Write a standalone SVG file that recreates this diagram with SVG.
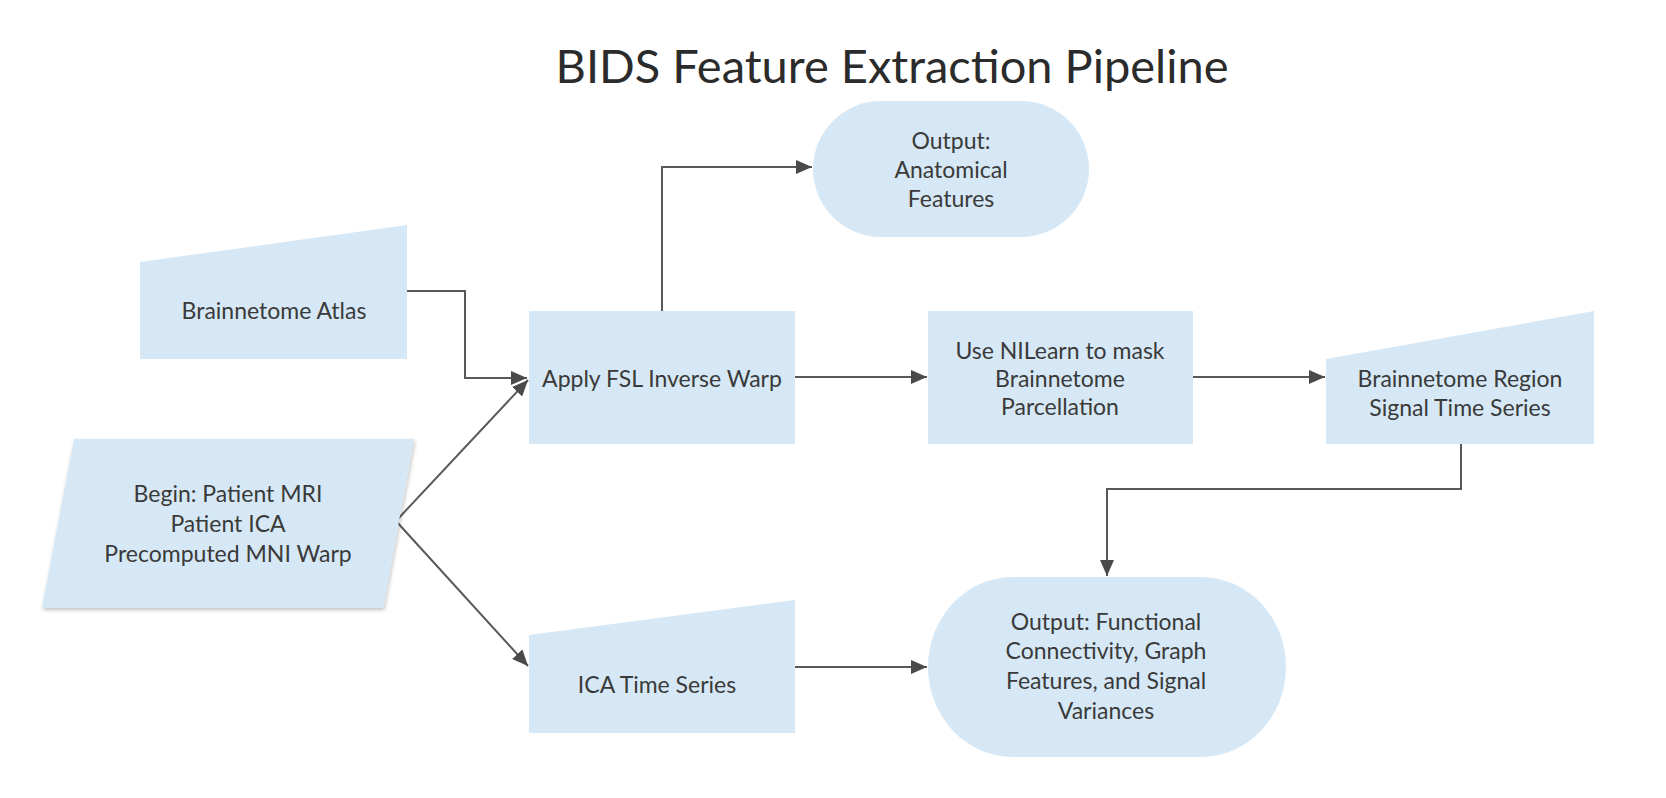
<svg xmlns="http://www.w3.org/2000/svg" width="1666" height="798" viewBox="0 0 1666 798">
<style>
.n{fill:#d6e8f5;stroke:none}
.t{font-family:Lato,"Open Sans","Liberation Sans",sans-serif;font-size:23px;fill:#3a3a3a;text-anchor:middle}
.c{fill:none;stroke:#595959;stroke-width:2}
.title{font-family:Lato,"Open Sans","Liberation Sans",sans-serif;font-size:47px;fill:#2b2b2b;text-anchor:middle}
</style>
<defs>
<marker id="ah" viewBox="0 0 16 14" refX="16" refY="7" markerWidth="16" markerHeight="14" markerUnits="userSpaceOnUse" orient="auto">
<path d="M0,0 L16,7 L0,14 Z" fill="#4a4a4a"/>
</marker>
<filter id="sh" x="-10%" y="-10%" width="130%" height="130%">
<feGaussianBlur in="SourceAlpha" stdDeviation="2"/>
<feOffset dx="1" dy="2" result="b"/>
<feComponentTransfer><feFuncA type="linear" slope="0.25"/></feComponentTransfer>
<feMerge><feMergeNode/><feMergeNode in="SourceGraphic"/></feMerge>
</filter>
</defs>
<rect width="1666" height="798" fill="#ffffff"/>
<text class="title" x="892" y="83">BIDS Feature Extraction Pipeline</text>

<g id="connectors">
<polyline class="c" points="407,291 465,291 465,378 527,378" marker-end="url(#ah)"/>
<line class="c" x1="396" y1="521" x2="528" y2="380" marker-end="url(#ah)"/>
<line class="c" x1="396" y1="521" x2="528" y2="666" marker-end="url(#ah)"/>
<polyline class="c" points="662,311 662,167 812,167" marker-end="url(#ah)"/>
<line class="c" x1="795" y1="377" x2="927" y2="377" marker-end="url(#ah)"/>
<line class="c" x1="1193" y1="377" x2="1325" y2="377" marker-end="url(#ah)"/>
<polyline class="c" points="1461,444 1461,489 1107,489 1107,576" marker-end="url(#ah)"/>
<line class="c" x1="795" y1="667" x2="927" y2="667" marker-end="url(#ah)"/>
</g>

<g id="atlas">
<polygon class="n" points="140,262 407,225 407,359 140,359"/>
<text class="t" x="274" y="319">Brainnetome Atlas</text>
</g>

<g id="begin">
<polygon class="n" points="74,439 414,439 383,608 42,608" filter="url(#sh)"/>
<text class="t" x="228" y="502">Begin: Patient MRI</text>
<text class="t" x="228" y="532">Patient ICA</text>
<text class="t" x="228" y="562">Precomputed MNI Warp</text>
</g>

<g id="apply">
<rect class="n" x="529" y="311" width="266" height="133"/>
<text class="t" x="662" y="387">Apply FSL Inverse Warp</text>
</g>

<g id="anat">
<rect class="n" x="813" y="101" width="276" height="136" rx="68" ry="68"/>
<text class="t" x="951" y="149">Output:</text>
<text class="t" x="951" y="178">Anatomical</text>
<text class="t" x="951" y="207">Features</text>
</g>

<g id="nilearn">
<rect class="n" x="928" y="311" width="265" height="133"/>
<text class="t" x="1060" y="359">Use NILearn to mask</text>
<text class="t" x="1060" y="387">Brainnetome</text>
<text class="t" x="1060" y="415">Parcellation</text>
</g>

<g id="region">
<polygon class="n" points="1326,359 1594,311 1594,444 1326,444"/>
<text class="t" x="1460" y="387">Brainnetome Region</text>
<text class="t" x="1460" y="416">Signal Time Series</text>
</g>

<g id="ica">
<polygon class="n" points="529,635 795,600 795,733 529,733"/>
<text class="t" x="657" y="693">ICA Time Series</text>
</g>

<g id="functional">
<rect class="n" x="928" y="577" width="358" height="180" rx="85" ry="90"/>
<text class="t" x="1106" y="630">Output: Functional</text>
<text class="t" x="1106" y="659">Connectivity, Graph</text>
<text class="t" x="1106" y="689">Features, and Signal</text>
<text class="t" x="1106" y="719">Variances</text>
</g>
</svg>
